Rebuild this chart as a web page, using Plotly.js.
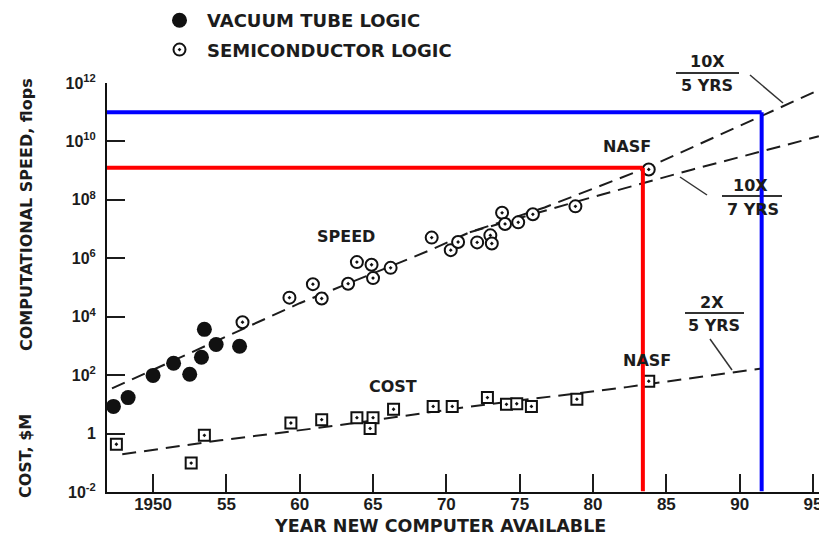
<!DOCTYPE html>
<html><head><meta charset="utf-8">
<script src="https://cdn.plot.ly/plotly-3.0.1.min.js"></script>
<style>html,body{margin:0;padding:0;background:#fff}#chart{width:819px;height:537px}</style>
</head><body><div id="chart"></div>
<script>
// ---- data ----
const vacuumYears = [1947.3, 1948.3, 1950.0, 1951.4, 1952.5, 1953.3, 1953.5, 1954.3, 1955.9];
const vacuumSpeed = [8.5, 17, 98, 255, 107, 410, 3700, 1120, 970];

const semiYears = [1956.1, 1959.3, 1960.9, 1961.5, 1963.3, 1963.9, 1964.9, 1965.0, 1966.2, 1969.0,
                   1970.3, 1970.8, 1972.1, 1973.0, 1973.1, 1973.8, 1974.0, 1974.9, 1975.9, 1978.8, 1983.8];
const semiSpeed = [6500, 4.5e4, 1.3e5, 4.2e4, 1.35e5, 7.4e5, 6e5, 2.1e5, 4.7e5, 5.1e6,
                   1.9e6, 3.6e6, 3.5e6, 6.1e6, 3.2e6, 3.6e7, 1.5e7, 1.7e7, 3.2e7, 6e7, 1.1e9];

const costYears = [1947.5, 1952.6, 1953.5, 1959.4, 1961.5, 1963.9, 1965.0, 1964.8, 1966.4, 1969.1,
                   1970.4, 1972.8, 1974.1, 1974.8, 1975.8, 1978.9, 1983.8];
const costValues = [0.43, 0.098, 0.87, 2.3, 3.0, 3.5, 3.5, 1.5, 6.8, 8.5,
                    8.5, 17, 10, 10.5, 8.5, 15, 62];

// dashed trend lines
const speedTrendYears = [1947.2, 1960.0, 1968.9, 1971.6, 1976.7, 1983.75, 1995.35]; // 10X / 5 YRS
const speedTrendValues = [35, 2.9e4, 1.9e6, 7.8e6, 5.5e7, 1.3e9, 5.6e11];
const slowTrendYears = [1971.6, 1979.6, 1986.8, 1995.4];                              // 10X / 7 YRS
const slowTrendValues = [7.8e6, 1.1e8, 1.1e9, 1.5e10];
const costTrendYears = [1947.9, 1954.6, 1962.3, 1971.4, 1982.3, 1991.5];             // 2X / 5 YRS
const costTrendValues = [0.195, 0.59, 1.82, 8.1, 38.9, 170];

// highlighted guides (red: NASF, blue: 10X/5 YRS extrapolation)
const redGuide = {year: 1983.4, speed: 1.26e9};
const blueGuide = {year: 1991.5, speed: 1e11};
const axisFloor = 0.0106;

const xTickVals = [1950, 1955, 1960, 1965, 1970, 1975, 1980, 1985, 1990, 1995];
const xTickText = ['1950', '55', '60', '65', '70', '75', '80', '85', '90', '95'];
const yTickVals = [1e-2, 1, 1e2, 1e4, 1e6, 1e8, 1e10, 1e12];
const yTickText = ['10<sup>-2</sup>', '1', '10<sup>2</sup>', '10<sup>4</sup>', '10<sup>6</sup>',
                   '10<sup>8</sup>', '10<sup>10</sup>', '10<sup>12</sup>'];

// ---- layout geometry ----
const W = 819, H = 537, ML = 107, MR = 0, MT = 83, MB = 45;
const PW = W - ML - MR, PH = H - MT - MB;
const px = x => (x - ML) / PW;
const py = y => (H - MB - y) / PH;
const INK = '#1c1c1c';
const txtFont = s => ({family: 'DejaVu Sans', size: s, weight: 'bold', color: INK});
const dashStyle = {color: INK, width: 2, dash: '14px,8px'};

const traces = [
  {x: speedTrendYears, y: speedTrendValues, mode: 'lines', line: dashStyle, showlegend: false, hoverinfo: 'skip'},
  {x: slowTrendYears, y: slowTrendValues, mode: 'lines', line: dashStyle, showlegend: false, hoverinfo: 'skip'},
  {x: costTrendYears, y: costTrendValues, mode: 'lines', line: dashStyle, showlegend: false, hoverinfo: 'skip'},
  {x: vacuumYears, y: vacuumSpeed, mode: 'markers', name: 'VACUUM TUBE LOGIC', legendgroup: 'a',
   cliponaxis: false, marker: {symbol: 'circle', size: 15, color: '#111'}},
  {x: semiYears, y: semiSpeed, mode: 'markers', name: 'SEMICONDUCTOR LOGIC', legendgroup: 'b',
   cliponaxis: false, marker: {symbol: 'circle-dot', size: 12, color: '#fff', line: {color: '#111', width: 2}}},
  {x: costYears, y: costValues, mode: 'markers', name: 'COST', showlegend: false,
   cliponaxis: false, marker: {symbol: 'square-dot', size: 11, color: '#fff', line: {color: '#111', width: 2}}}
];

const ann = (text, x, y, size, extra) => Object.assign({
  text, xref: 'paper', yref: 'paper', x: px(x), y: py(y), xanchor: 'center', yanchor: 'middle',
  showarrow: false, font: txtFont(size)}, extra || {});

const annotations = [
  ann('SPEED', 346, 237, 16),
  ann('COST', 393, 386, 16),
  ann('NASF', 627, 146, 16),
  ann('NASF', 647, 360, 16),
  ann('10X', 707, 62, 16), ann('5 YRS', 707, 86, 16),
  ann('10X', 750, 185, 16), ann('7 YRS', 753, 209, 16),
  ann('2X', 712, 302, 16), ann('5 YRS', 714, 325, 16),
  ann('COMPUTATIONAL SPEED, flops', 26, 215, 16, {textangle: -90}),
  ann('COST, $M', 25, 456, 16, {textangle: -90}),
  ann('YEAR NEW COMPUTER AVAILABLE', 440, 525.5, 17.5)
];

const pline = (x0, y0, x1, y1, w) => ({type: 'line', xref: 'paper', yref: 'paper',
  x0: px(x0), y0: py(y0), x1: px(x1), y1: py(y1), line: {color: '#333', width: w || 1.5}, layer: 'above'});

const guide = (g, color) => [
  {type: 'line', xref: 'x', yref: 'y', x0: 1946.86, x1: g.year,
   y0: g.speed, y1: g.speed, line: {color, width: 4}, layer: 'above'},
  {type: 'line', xref: 'x', yref: 'y', x0: g.year, x1: g.year,
   y0: g.speed, y1: axisFloor, line: {color, width: 4}, layer: 'above'}
];

const shapes = [
  pline(676, 73, 739, 73, 2), pline(722, 196, 782, 196, 2), pline(685, 313, 744, 313, 2),
  pline(750, 75, 783, 103), pline(680, 177, 707, 195), pline(710, 339, 732, 370),
  ...guide(redGuide, '#ff0000'),
  ...guide(blueGuide, '#0000ff')
];

const layout = {
  width: W, height: H,
  margin: {l: ML, r: MR, t: MT, b: MB, pad: 0},
  paper_bgcolor: '#fff', plot_bgcolor: '#fff',
  showlegend: true,
  legend: {x: px(152), y: py(2), xanchor: 'left', yanchor: 'top', bgcolor: 'rgba(0,0,0,0)',
           font: txtFont(18), traceorder: 'grouped', tracegroupgap: 3, itemwidth: 45},
  xaxis: {range: [1946.86, 1995.41], tickmode: 'array', tickvals: xTickVals, ticktext: xTickText,
          ticks: 'inside', ticklen: 18, tickwidth: 2, tickcolor: INK, ticklabeloverflow: 'allow',
          ticklabelstandoff: -4,
          showline: true, linecolor: '#111', linewidth: 2, showgrid: false, zeroline: false,
          tickfont: {family: 'Liberation Sans', size: 17, weight: 'bold', color: INK}},
  yaxis: {type: 'log', range: [-2, 12], tickmode: 'array', tickvals: yTickVals, ticktext: yTickText,
          ticks: 'inside', ticklen: 18, tickwidth: 2, tickcolor: INK, ticklabelstandoff: 6,
          showline: true, linecolor: '#111', linewidth: 2, showgrid: false, zeroline: false,
          tickfont: {family: 'Liberation Sans', size: 16, weight: 'bold', color: INK}},
  annotations, shapes
};

Plotly.newPlot('chart', traces, layout, {staticPlot: true, displayModeBar: false});
</script></body></html>
